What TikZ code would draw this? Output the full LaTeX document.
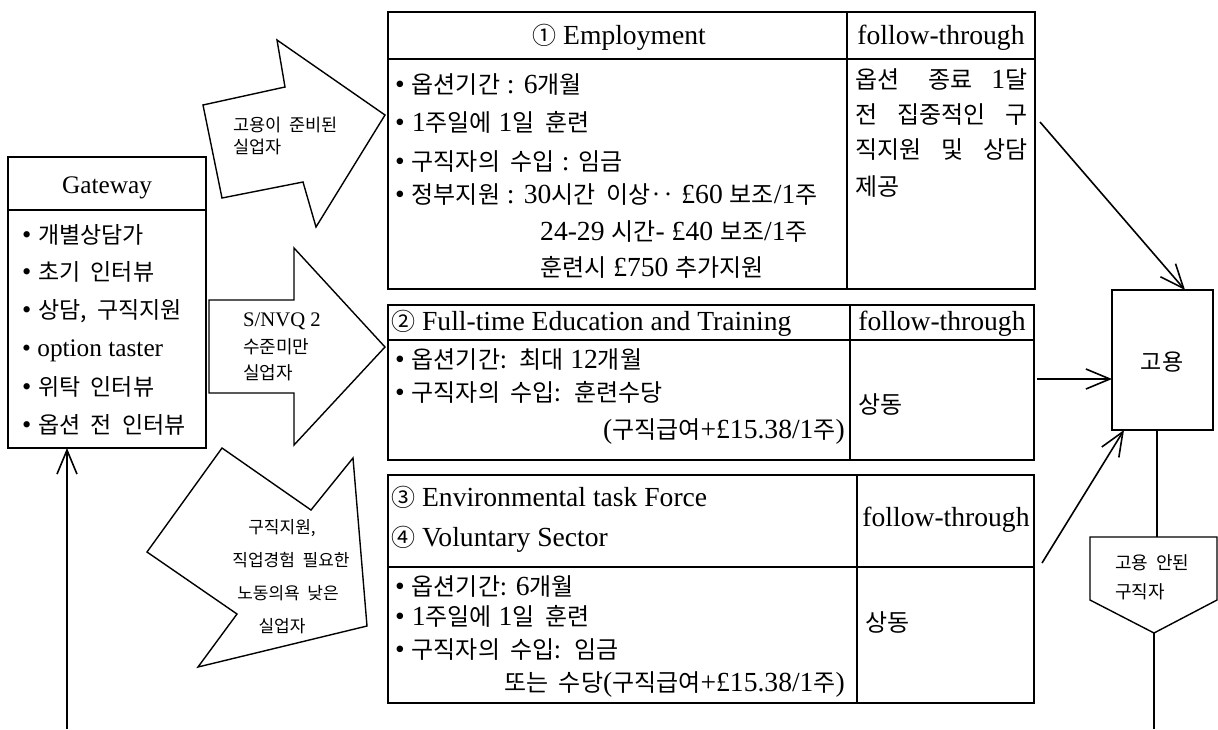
\documentclass[tikz,border=0pt]{standalone}
\usepackage{fontspec}
\setmainfont{Liberation Serif}[Scale=1.15]
\newfontfamily\krfont[WordSpace=2]{Noto Sans CJK KR}
\newcommand{\kr}[1]{{\krfont #1}}
\usetikzlibrary{arrows.meta}
\begin{document}
\begin{tikzpicture}[x=1pt,y=-1pt]
\tikzset{
  ln/.style={line width=1.5pt},
  box/.style={draw, line width=1.6pt, inner sep=0pt, outer sep=0pt},
  bigarrow/.style={draw, line width=1.4pt, line join=miter},
  arr/.style={line width=1.6pt, -{Straight Barb[length=24pt,width=20pt]}},
  tb/.style={inner sep=0pt, anchor=base west, font=\fontsize{24}{28}\selectfont},
  tbr/.style={tb, anchor=base east},
  hd/.style={inner sep=0pt, anchor=base, font=\fontsize{24}{28}\selectfont},
  gwt/.style={inner sep=0pt, anchor=base west, font=\fontsize{23}{28}\selectfont},
  smt/.style={inner sep=0pt, anchor=base west, font=\fontsize{17.5}{22}\selectfont},
  smc/.style={smt, anchor=base},
}
\useasboundingbox (0,0) rectangle (1218,729);

% ---------- Gateway ----------
\node[box, minimum width=198pt, minimum height=291pt, anchor=north west] (gw) at (8,157) {};
\draw[ln] (8,210) -- (206,210);
\node[hd, font=\fontsize{22}{28}\selectfont] (gwh) at (107,193) {Gateway};
\node[gwt] (g1) at (22,243) {• \kr{개별상담가}};
\node[gwt] (g2) at (22,280) {• \kr{초기 인터뷰}};
\node[gwt] (g3) at (22,318) {• \kr{상담, 구직지원}};
\node[gwt, font=\fontsize{22}{28}\selectfont] (g4) at (22,356) {• option taster};
\node[gwt] (g5) at (22,395) {• \kr{위탁 인터뷰}};
\node[gwt] (g6) at (22,433) {• \kr{옵션 전 인터뷰}};
\coordinate (gin) at (67,729);
\draw[arr] (gin) -- (gin |- gw.south);

% ---------- big arrows ----------
\draw[bigarrow] (203,105) -- (285,87) -- (277,40) -- (385,115) -- (316,227) -- (303,182) -- (222,198) -- cycle;
\node[smt] (a1a) at (233,131) {\kr{고용이 준비된}};
\node[smt] (a1b) at (233,153) {\kr{실업자}};

\draw[bigarrow] (209,300) -- (294,300) -- (294,248) -- (385,347) -- (294,445) -- (294,393) -- (209,393) -- cycle;
\node[smt, font=\fontsize{18}{22}\selectfont] (a2a) at (243,326) {S/NVQ 2};
\node[smt, font=\fontsize{18}{22}\selectfont] (a2b) at (243,353) {\kr{수준미만}};
\node[smt, font=\fontsize{18}{22}\selectfont] (a2c) at (243,379) {\kr{실업자}};

\draw[bigarrow] (222,448) -- (311,510) -- (353,458) -- (367,626) -- (198,667) -- (237,614) -- (147,552) -- cycle;
\node[smc, font=\fontsize{17}{22}\selectfont] (a3a) at (282,533) {\kr{구직지원,}};
\node[smc, font=\fontsize{17}{22}\selectfont] (a3b) at (291,566) {\kr{직업경험 필요한}};
\node[smc, font=\fontsize{17}{22}\selectfont] (a3c) at (288,599) {\kr{노동의욕 낮은}};
\node[smc, font=\fontsize{17}{22}\selectfont] (a3d) at (282,632) {\kr{실업자}};

% ---------- option 1 ----------
\node[box, minimum width=647pt, minimum height=277pt, anchor=north west] (opt1) at (388,12) {};
\draw[ln] (388,59) -- (1035,59);
\draw[ln] (847,12) -- (847,289);
\node[hd] (o1h) at (619,44) {\kr{①} Employment};
\node[hd] (o1f) at (941,44) {follow-through};
\node[tb] (o1r1) at (395,93) {• \kr{옵션기간} : 6\kr{개월}};
\node[tb] (o1r2) at (395,131) {• 1\kr{주일에} 1\kr{일 훈련}};
\node[tb] (o1r3) at (395,170) {• \kr{구직자의 수입} : \kr{임금}};
\node[tb] (o1r4) at (395,203) {• \kr{정부지원} : 30\kr{시간 이상‥} £60 \kr{보조}/1\kr{주}};
\node[tb] (o1r5) at (540,240) {24-29 \kr{시간}- £40 \kr{보조}/1\kr{주}};
\node[tb] (o1r6) at (540,276) {\kr{훈련시} £750 \kr{추가지원}};
\node[tb] (o1f1) at (855,88) {\makebox[172pt][s]{\kr{옵션 종료} 1\kr{달}}};
\node[tb] (o1f2) at (855,123) {\makebox[172pt][s]{\kr{전 집중적인 구}}};
\node[tb] (o1f3) at (855,158) {\makebox[172pt][s]{\kr{직지원 및 상담}}};
\node[tb] (o1f4) at (855,195) {\kr{제공}};

% ---------- option 2 ----------
\node[box, minimum width=646pt, minimum height=155pt, anchor=north west] (opt2) at (388,305) {};
\draw[ln] (388,340) -- (1034,340);
\draw[ln] (850,305) -- (850,460);
\node[tb] (o2h) at (391,330) {\kr{②} Full-time Education and Training};
\node[hd] (o2f) at (942,330) {follow-through};
\node[tb] (o2r1) at (395,368) {• \kr{옵션기간: 최대} 12\kr{개월}};
\node[tb] (o2r2) at (395,401) {• \kr{구직자의 수입: 훈련수당}};
\node[tbr] (o2r3) at (845,438) {(\kr{구직급여}+£15.38/1\kr{주})};
\node[tb] (o2s) at (858,413) {\kr{상동}};

% ---------- option 3 ----------
\node[box, minimum width=646pt, minimum height=228pt, anchor=north west] (opt3) at (388,475) {};
\draw[ln] (388,567) -- (1034,567);
\draw[ln] (857,475) -- (857,703);
\node[tb] (o3h1) at (391,506) {\kr{③} Environmental task Force};
\node[tb] (o3h2) at (391,546) {\kr{④} Voluntary Sector};
\node[hd] (o3f) at (946,526) {follow-through};
\node[tb] (o3r1) at (395,595) {• \kr{옵션기간:} 6\kr{개월}};
\node[tb] (o3r2) at (395,625) {• 1\kr{주일에} 1\kr{일 훈련}};
\node[tb] (o3r3) at (395,658) {• \kr{구직자의 수입: 임금}};
\node[tbr] (o3r4) at (845,691) {\kr{또는 수당}(\kr{구직급여}+£15.38/1\kr{주})};
\node[tb] (o3s) at (865,631) {\kr{상동}};

% ---------- employment ----------
\node[box, minimum width=101pt, minimum height=140pt, anchor=north west] (goyong) at (1112,290) {};
\node[hd, font=\fontsize{23}{28}\selectfont] (goyongt) at (1162,370) {\kr{고용}};

\draw[line width=1.4pt] (1090,537) -- (1217,537) -- (1217,600) -- (1154,633) -- (1090,600) -- cycle;
\node[smt, font=\fontsize{18}{22}\selectfont] (ne1) at (1115,569) {\kr{고용 안된}};
\node[smt, font=\fontsize{18}{22}\selectfont] (ne2) at (1115,598) {\kr{구직자}};
\coordinate (netop) at (1157,537);
\coordinate (nebot) at (1154,633);
\coordinate (neend) at (1154,729);
\draw[line width=1.4pt] (goyong.south -| netop) -- (netop);
\draw[line width=1.4pt] (nebot) -- (neend);

% ---------- connectors ----------
\coordinate (s1) at (1040,122);
\coordinate (s2) at (1037,379);
\coordinate (s3) at (1042,563);
\draw[arr] (s1) -- (1185,0 |- goyong.north);
\draw[arr] (s2) -- (goyong.west |- s2);
\draw[arr] (s3) -- (1124,0 |- goyong.south);
\end{tikzpicture}
\end{document}
